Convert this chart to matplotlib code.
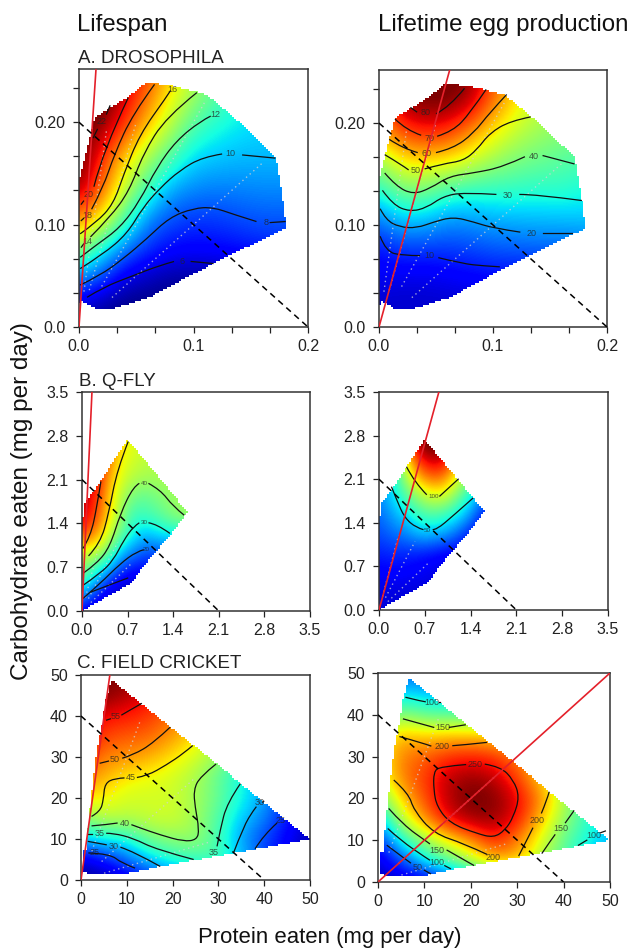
import numpy as np
import matplotlib
matplotlib.use('Agg')
import matplotlib.pyplot as plt
from matplotlib.patches import PathPatch
from matplotlib.path import Path

plt.rcParams['font.family'] = ['Liberation Sans', 'DejaVu Sans']

W, H = 633, 951

# ---- Drosophila ----
a_x = [0, .02, .04, .06, .08, .10, .12, .14, .16, .18]
a_y = [.02, .05, .08, .11, .14, .17, .20, .23, .25]
a_region = [(0, 0.02), (0, .143), (.008, .179), (.014, .205), (.042, .224), (.059, .239), (.085, .235), (.111, .227),
            (.135, .205), (.172, .166), (.178, .124), (.181, .097), (.117, .062), (.062, .029), (.030, .018),
            (.014, .018), (.002, .026)]
a_life = [[5.5, 4.8, 4.5, 4.5, 4.5, 4.5, 4.5, 4.5, 4.5, 4.5],
          [9.2, 7.9, 6, 5.5, 5, 5, 5, 5, 5, 5],
          [14.3, 11.3, 9, 7.6, 6.8, 6.7, 6.8, 7, 7.3, 7.3],
          [18.5, 16.2, 12.5, 9.2, 8.2, 7.7, 7.8, 8.1, 8.3, 8.3],
          [22, 19, 15, 12.2, 9.7, 9.2, 9, 9.1, 9.2, 9.2],
          [23, 20, 16.7, 14.3, 12.3, 10.5, 10.2, 10, 10, 10],
          [23, 22, 19.5, 16.8, 14.5, 12.2, 11.3, 10.8, 10.5, 10.5],
          [23, 23.5, 21, 18.5, 16, 14, 12.5, 11.5, 11, 11],
          [23.5, 23.5, 22, 19.5, 17, 15, 13, 12, 11, 11]]
a_eggs = [[3, 3, 3, 3, 3, 3, 3, 3, 3, 3],
          [6, 5, 5, 6, 7, 8, 8, 8, 8, 8],
          [9.5, 13.5, 13, 13.5, 14.5, 16, 16.5, 17, 17, 17],
          [19, 26.5, 26, 21.5, 22, 24, 24.5, 25, 25, 26],
          [33, 42, 42, 36, 34, 34, 34, 33, 34, 31],
          [46, 57, 58, 57, 52, 46, 42, 40, 38, 37],
          [62, 73, 77, 75, 66, 57, 50, 46, 44, 42],
          [70, 85, 88, 88, 83, 68, 57, 50, 46, 44],
          [72, 88, 89, 89, 87, 72, 60, 52, 48, 46]]
a_life_lines = [
    [(.007, .029), (.0215, .039), (.047, .050), (.07, .060), (.083, .064)], [(.098, .064), (.117, .062)],
    [(.001, .041), (.018, .050), (.039, .067), (.059, .086), (.079, .107), (.100, .116), (.117, .117), (.135, .110), (.155, .103)],
    [(.167, .102), (.180, .103)],
    [(.001, .057), (.021, .071), (.042, .091), (.056, .117), (.071, .136), (.088, .153), (.108, .166), (.125, .169)],
    [(.143, .168), (.171, .165)],
    [(.001, .068), (.015, .080), (.036, .097), (.053, .123), (.068, .156), (.085, .182), (.106, .201), (.115, .206)],
    [(.002, .078), (.004, .081)], [(.010, .088), (.027, .107), (.044, .133), (.056, .169), (.076, .205), (.103, .229)],
    [(.001, .091), (.015, .102), (.030, .120), (.039, .149), (.053, .188), (.076, .224), (.080, .231)],
    [(.002, .104), (.004, .106)], [(.011, .115), (.021, .136), (.031, .169), (.047, .208), (.066, .237)],
    [(.002, .12), (.004, .123)], [(.013, .137), (.021, .172), (.043, .224)],
    [(.0125, .185), (.016, .193)], [(.024, .208), (.027, .216)]]
a_life_labels = [(.09, .064, '6'), (.163, .102, '8'), (.132, .169, '10'), (.119, .208, '12'), (.007, .084, '14'),
                 (.082, .232, '16'), (.007, .109, '18'), (.008, .129, '20'), (.020, .201, '22')]
a_eggs_lines = [
    [(.001, .089), (.006, .074), (.021, .070), (.036, .070)], [(.052, .068), (.074, .062), (.091, .060), (.106, .059)],
    [(.001, .116), (.006, .105), (.018, .098), (.033, .097), (.048, .103), (.065, .108), (.083, .103), (.100, .097), (.124, .093)],
    [(.144, .092), (.169, .092)],
    [(.003, .134), (.012, .120), (.027, .113), (.042, .117), (.056, .128), (.074, .132), (.103, .130)],
    [(.123, .130), (.138, .130), (.178, .124)],
    [(.005, .151), (.015, .138), (.030, .130), (.045, .136), (.062, .148), (.083, .151), (.109, .157), (.128, .167)],
    [(.144, .168), (.171, .160)],
    [(.005, .169), (.020, .159), (.026, .154)], [(.040, .155), (.056, .160), (.074, .163), (.086, .174), (.097, .190), (.115, .202), (.133, .206)],
    [(.009, .184), (.021, .175), (.034, .171)], [(.050, .171), (.065, .175), (.083, .190), (.097, .210), (.112, .228)],
    [(.014, .204), (.024, .193), (.037, .188)], [(.051, .187), (.065, .192), (.080, .210), (.094, .233)],
    [(.028, .215), (.033, .211)], [(.050, .209), (.062, .216), (.075, .234)]]
a_eggs_labels = [(.044, .070, '10'), (.134, .092, '20'), (.113, .129, '30'), (.136, .167, '40'), (.032, .153, '50'),
                 (.042, .170, '60'), (.044, .185, '70'), (.041, .210, '80')]
a_slopes = [1, 2, 4, 8]
a_rail_ends = [.16, .11, .05, .024]

# ---- Q-fly ----
b_x = [0, .2, .4, .6, .8, 1.0, 1.2, 1.4, 1.6]
b_y = [0, .3, .6, .9, 1.2, 1.5, 1.8, 2.1, 2.4, 2.7]
b_region = [(0, 0), (0, 1.5), (.03, 1.5), (.04, 1.72), (.21, 1.95), (.70, 2.74), (1.62, 1.58), (1.34, 1.2),
            (.93, .7), (.76, .45)]
b_life = [[10, 5, 5, 5, 5, 5, 5, 5, 5],
          [25, 17, 8, 5, 5, 5, 5, 5, 5],
          [38, 30, 21, 13, 10, 10, 10, 10, 10],
          [45, 43, 36, 24, 19, 16, 16, 16, 16],
          [62, 57, 46, 36, 28, 24, 27, 27, 27],
          [70, 64, 52, 40, 32, 33, 35, 39, 41],
          [72, 66, 54, 43, 37, 36, 39, 41, 42],
          [72, 70, 56, 47, 43, 42, 42, 42, 42],
          [74, 72, 60, 49, 46, 44, 44, 44, 44],
          [75, 74, 62, 52, 47, 46, 46, 46, 46]]
b_eggs = [[0, 0, 0, 0, 0, 0, 0, 0, 0],
          [2, 1, 0, 0, 0, 0, 0, 0, 0],
          [6, 8, 7, 5, 3, 0, 0, 0, 0],
          [14, 16, 15, 13, 10, 6, 5, 5, 5],
          [22, 28, 32, 42, 42, 37, 25, 10, 5],
          [28, 38, 49, 62, 68, 62, 52, 34, 10],
          [33, 48, 68, 84, 97, 96, 76, 53, 30],
          [38, 55, 86, 120, 135, 130, 100, 80, 50],
          [40, 60, 105, 150, 165, 160, 120, 100, 70],
          [42, 65, 120, 175, 185, 175, 140, 120, 90]]
b_life_lines = [
    [(.13, .30), (.38, .40), (.71, .53)],
    [(.015, .2), (.28, .44), (.59, .76), (.84, .95), (.95, .98)],
    [(.015, .41), (.28, .60), (.48, .81), (.64, 1.13), (.79, 1.35), (.88, 1.41)], [(1.02, 1.41), (1.15, 1.39), (1.35, 1.24)],
    [(.026, .61), (.23, .76), (.43, 1.03), (.59, 1.56), (.79, 1.99), (.88, 2.04)], [(1.02, 2.04), (1.2, 1.94), (1.4, 1.67), (1.57, 1.53)],
    [(.10, .88), (.28, 1.08), (.41, 1.56), (.54, 2.26), (.71, 2.71)],
    [(.015, 1.0), (.13, 1.19), (.23, 1.67), (.29, 2.07)]]
b_life_labels = [(.98, .98, '20'), (.95, 1.41, '30'), (.95, 2.04, '40')]
b_eggs_lines = [
    [(.19, 1.98), (.27, 1.77), (.39, 1.48), (.57, 1.32), (.68, 1.29)], [(.82, 1.29), (.88, 1.29), (1.13, 1.51), (1.44, 1.80)],
    [(.42, 2.30), (.55, 2.04), (.73, 1.85)], [(.93, 1.83), (1.21, 2.10)]]
b_eggs_labels = [(.74, 1.28, '50'), (.83, 1.83, '100')]
b_slopes = [1, 2, 4]
b_rail_ends = [.75, .55, .3]

# ---- Field cricket ----
c_x = [0, 5, 10, 15, 20, 25, 30, 35, 40, 45, 50]
c_y = [0, 5, 10, 15, 20, 25, 30, 35, 40, 45, 50]
c_region = [(.6, 2), (2, 1.3), (9, 1.3), (17.3, 3.3), (33.3, 6.6), (50, 10), (6.7, 48.8), (5.4, 43.6), (4.5, 37.2),
            (3.7, 32.8), (3, 27.6), (1.6, 14), (1.2, 7.4), (.6, 7.2)]
c_life = [[18, 18, 20, 23, 26, 28, 30, 27, 22, 18, 17],
          [20, 23, 27, 31, 34, 35, 36, 31, 26, 21, 18],
          [31, 32.8, 33, 38, 39.3, 40, 35.5, 29, 25, 22, 19],
          [38, 42, 41.5, 42.5, 43, 40.5, 36, 31, 28, 23, 20],
          [46, 45, 43, 43, 43, 40.5, 37.5, 33, 29.5, 24, 21],
          [50, 48, 45.2, 44.5, 43, 41, 37, 33, 30, 25, 22],
          [55, 50, 49.5, 48, 45.8, 43, 40, 35, 30, 25, 22],
          [57, 53, 52, 51.5, 49, 46, 42, 36, 30, 25, 22],
          [59, 55.5, 55, 53.5, 51, 48, 43, 37, 30, 25, 22],
          [60, 60, 58, 56, 53, 50, 45, 37, 30, 25, 22],
          [60, 60, 60, 58, 55, 50, 45, 37, 30, 25, 22]]
c_eggs = [[5, 5, 10, 30, 50, 70, 80, 50, 30, 30, 30],
          [10, 45, 90, 120, 155, 200, 200, 155, 125, 85, 70],
          [30, 100, 145, 180, 210, 245, 215, 170, 125, 100, 80],
          [70, 158, 210, 253, 270, 275, 250, 195, 145, 110, 80],
          [120, 190, 230, 265, 285, 280, 255, 215, 155, 110, 80],
          [160, 215, 235, 265, 275, 265, 235, 190, 150, 110, 80],
          [170, 215, 225, 240, 245, 240, 215, 190, 150, 110, 80],
          [165, 200, 190, 195, 195, 190, 190, 190, 150, 110, 80],
          [110, 145, 125, 125, 120, 120, 120, 120, 120, 110, 80],
          [80, 90, 85, 75, 75, 75, 75, 75, 75, 75, 75],
          [50, 55, 55, 55, 55, 55, 55, 55, 55, 55, 55]]
c_life_lines = [
    [(5.6, 39), (6.4, 39.3)], [(8.8, 40.2), (10, 41), (13.3, 43.1)],
    [(4.2, 28.5), (6, 29)], [(9, 29.7), (11.4, 30.5), (15.8, 33.4), (19.5, 37.3)],
    [(2.3, 15.5), (4.2, 16.7), (4.9, 19.6), (5.2, 23.6), (7.4, 24.8), (9.5, 24.9)], [(12.2, 25), (14.4, 25.4), (18.7, 28.1), (22.4, 30.9), (24.4, 32.8)],
    [(2.3, 13.2), (5.6, 13.5), (8, 13.9)], [(11, 13.5), (12.9, 12.7), (17.3, 11), (22.4, 9.4), (25.3, 9.8), (25.8, 12.3), (24.9, 17.9), (24.6, 22), (26, 25.2), (29.5, 28.3)],
    [(1.6, 11.3), (2.5, 11.3)], [(5.5, 11.4), (7.1, 11.4), (11.4, 10.2), (16.5, 7.4), (24.6, 5)],
    [(1.6, 9.4), (5.5, 8.6)], [(8.6, 8), (11.4, 7), (17.3, 3.3)],
    [(1.6, 6.6), (6.3, 6.4), (8.9, 4.1), (11.8, 2.9)],
    [(29.7, 8.2), (30.4, 12.3), (31.9, 18.8), (34.8, 23.5)],
    [(33.3, 6.6), (35.5, 13.1), (37.7, 17.1), (38.3, 17.9)], [(39.6, 19), (39.9, 19.2)],
    [(38, 7.6), (39.9, 11), (42.8, 13.9)]]
c_life_labels = [(7.6, 39.8, '55'), (7.4, 29.3, '50'), (10.8, 24.9, '45'), (9.5, 13.9, '40'), (4, 11.3, '35'),
                 (7.1, 8.2, '30'), (3, 6.6, '25'), (28.9, 6.8, '35'), (39, 18.8, '30'), (43.5, 14.5, '25')]
c_eggs_lines = [
    [(19, 28.1), (13.4, 27.6), (12, 26.4), (12, 22), (12.7, 18), (15.6, 14), (21.3, 11.6), (24.9, 10.6), (27.4, 12.4), (29.2, 15.6),
     (30.5, 20.4), (29.2, 24.4), (26.4, 27.6), (23, 28.2)],
    [(4.6, 34.8), (9.8, 33.2), (11.5, 32.5)], [(16, 32.6), (18.5, 32.8), (23.5, 33.4)],
    [(5.5, 39), (12, 37)], [(15.4, 37), (18.8, 37.6)],
    [(5.9, 44.2), (9.5, 43.2), (10.3, 43.1)], [(13.1, 43), (13.3, 43)],
    [(3.4, 24.4), (6.6, 21.2), (7.7, 17.2), (12, 11.6), (18.5, 9.2), (23.5, 6.6)],
    [(2.3, 17.6), (5.5, 13.6), (10.6, 9.6), (11.2, 9.1)], [(14.9, 7.6), (20.6, 4)],
    [(2.1, 12.8), (4.8, 10), (10.6, 5.6), (11.2, 5.2)], [(14.4, 3.9), (15.6, 3.2)],
    [(1.9, 8.8), (6.2, 5.2), (7.1, 4.5)], [(10, 2.8), (11.3, 2)],
    [(30.3, 6.2), (32.8, 11.6), (33.4, 13)], [(35.2, 16.4), (36.4, 19.6), (36.9, 21.6)],
    [(35.3, 6.8), (37.5, 10.4), (38.2, 11.4)], [(40.4, 14.2), (42.2, 17)],
    [(43.2, 8.8), (45, 10)], [(48, 11.8), (49, 12.2)]]
c_eggs_labels = [(20.9, 28, '250'), (13.9, 32.5, '200'), (14, 37, '150'), (11.6, 43, '100'), (24.9, 5.8, '200'),
                 (12.7, 7.6, '150'), (12.7, 4.6, '100'), (8.5, 3.4, '50'), (34.3, 14.8, '200'), (39.3, 12.8, '150'),
                 (46.5, 11.2, '100')]
c_slopes = [1, 3, .33]
c_rail_ends = [25, 13, 28]


def add_panel(box, xs, ys, z, vmin, vmax, region, lines, labels, slopes, rail_ends, red_end, diet,
              lim, ticks, ticklabels, label_size=6.5):
    left, top, right, bottom = box
    ax = fig.add_axes([left / W, 1 - bottom / H, (right - left) / W, (bottom - top) / H])
    dx = xs[1] - xs[0]
    dy = ys[1] - ys[0]
    ax.imshow(z, origin='lower', cmap='jet', vmin=vmin, vmax=vmax, aspect='auto', interpolation='bicubic',
              extent=(xs[0] - dx / 2, xs[-1] + dx / 2, ys[0] - dy / 2, ys[-1] + dy / 2), zorder=1)

    # white mask outside the sampled region, in small cells so the edge is stepped
    nx = (right - left) // 2
    ny = (bottom - top) // 2
    gx, gy = np.meshgrid((np.arange(nx) + .5) / nx * lim[0], (np.arange(ny) + .5) / ny * lim[1])
    inside = Path(region).contains_points(np.c_[gx.ravel(), gy.ravel()]).reshape(gx.shape)
    mask = np.ones((ny, nx, 4))
    mask[..., 3] = ~inside
    ax.imshow(mask, origin='lower', aspect='auto', interpolation='nearest', extent=(0, lim[0], 0, lim[1]), zorder=1.5)

    # selection rails
    for s, e in zip(slopes, rail_ends):
        ax.plot([e * .18, e], [e * .18 * s, e * s], color='#d4d4d4', lw=1, ls=(0, (1, 2.5)), alpha=.75, zorder=2)

    # contour lines, smoothed with quadratic path segments
    for seg in lines:
        pts = np.array(seg)
        if len(pts) < 3:
            ax.plot(pts[:, 0], pts[:, 1], color='#111111', lw=.9, zorder=3)
            continue
        verts = [pts[0]]
        codes = [Path.MOVETO]
        for i in range(1, len(pts) - 1):
            end = (pts[i] + pts[i + 1]) / 2 if i < len(pts) - 2 else pts[i + 1]
            verts += [pts[i], end]
            codes += [Path.CURVE3, Path.CURVE3]
        ax.add_patch(PathPatch(Path(verts, codes), fc='none', ec='#111111', lw=.9, zorder=3))
    for lx, ly, txt in labels:
        ax.text(lx, ly, txt, fontsize=label_size, color='#222222', alpha=.75, ha='center', va='center', zorder=3)

    ax.plot([0, red_end[0]], [0, red_end[1]], color='#e4202a', lw=1.2, zorder=4)
    ax.plot([0, diet], [diet, 0], color='black', lw=1.1, ls=(0, (4, 3)), zorder=5)

    ax.set_xlim(0, lim[0])
    ax.set_ylim(0, lim[1])
    ax.set_xticks(ticks[0])
    ax.set_xticklabels(ticklabels[0])
    ax.set_yticks(ticks[1])
    ax.set_yticklabels(ticklabels[1])
    ax.tick_params(length=4.5, width=.9, labelsize=11.5, color='#222222', labelcolor='#222222')
    ax.tick_params(axis='x', pad=4)
    ax.tick_params(axis='y', pad=5)
    for sp in ax.spines.values():
        sp.set_linewidth(1.1)
        sp.set_color('#333333')
    return ax


fig = plt.figure(figsize=(W / 100, H / 100), dpi=100)

a_xt = [0, .2 / 6, .2 / 3, .1, .4 / 3, .5 / 3, .2]
a_yt = [0, .1 / 3, .2 / 3, .1, .4 / 3, .5 / 3, .2, .7 / 3]
a_xl = ['0.0', '', '', '0.1', '', '', '0.2']
a_yl = ['0.0', '', '', '0.10', '', '', '0.20', '']
add_panel((79, 69, 308, 327), a_x, a_y, a_life, 4.5, 22.5, a_region, a_life_lines, a_life_labels, a_slopes,
          a_rail_ends, (.0148, .251), .2, (.2, .252), (a_xt, a_yt), (a_xl, a_yl))
add_panel((379, 70, 607, 327), a_x, a_y, a_eggs, -3, 87, a_region, a_eggs_lines, a_eggs_labels, a_slopes,
          a_rail_ends, (.062, .252), .2, (.2, .252), (a_xt, a_yt), (a_xl, a_yl))

b_t = [0, .7, 1.4, 2.1, 2.8, 3.5]
b_l = ['0.0', '0.7', '1.4', '2.1', '2.8', '3.5']
add_panel((82, 392, 310, 611), b_x, b_y, b_life, 2, 75, b_region, b_life_lines, b_life_labels, b_slopes,
          b_rail_ends, (.153, 3.5), 2.1, (3.5, 3.5), (b_t, b_t), (b_l, b_l), label_size=4.5)
add_panel((379, 392, 608, 610), b_x, b_y, b_eggs, -15, 175, b_region, b_eggs_lines, b_eggs_labels, b_slopes,
          b_rail_ends, (.915, 3.5), 2.1, (3.5, 3.5), (b_t, b_t), (b_l, b_l), label_size=4.5)

c_t = [0, 10, 20, 30, 40, 50]
c_l = ['0', '10', '20', '30', '40', '50']
add_panel((81, 675, 310, 880), c_x, c_y, c_life, 17, 60, c_region, c_life_lines, c_life_labels, c_slopes,
          c_rail_ends, (6.3, 50), 40, (50, 50), (c_t, c_t), (c_l, c_l))
add_panel((378, 673, 610, 882), c_x, c_y, c_eggs, -10, 280, c_region, c_eggs_lines, c_eggs_labels, c_slopes,
          c_rail_ends, (50, 50), 40, (50, 50), (c_t, c_t), (c_l, c_l))

fig.text(77 / W, 1 - 31 / H, 'Lifespan', fontsize=17.2, color='#111111')
fig.text(378 / W, 1 - 31 / H, 'Lifetime egg production', fontsize=17.4, color='#111111')
fig.text(78 / W, 1 - 63 / H, 'A. DROSOPHILA', fontsize=13.5, color='#222222')
fig.text(79 / W, 1 - 386 / H, 'B. Q-FLY', fontsize=13.5, color='#222222')
fig.text(77 / W, 1 - 668 / H, 'C. FIELD CRICKET', fontsize=13.5, color='#222222')
fig.text(22 / W, 1 - 501 / H, 'Carbohydrate eaten (mg per day)', fontsize=17.5, rotation=90, ha='center', va='center', color='#111111')
fig.text(329.5 / W, 1 - 937 / H, 'Protein eaten (mg per day)', fontsize=15.9, ha='center', va='center', color='#111111')

fig.savefig('out.png', dpi=100)
